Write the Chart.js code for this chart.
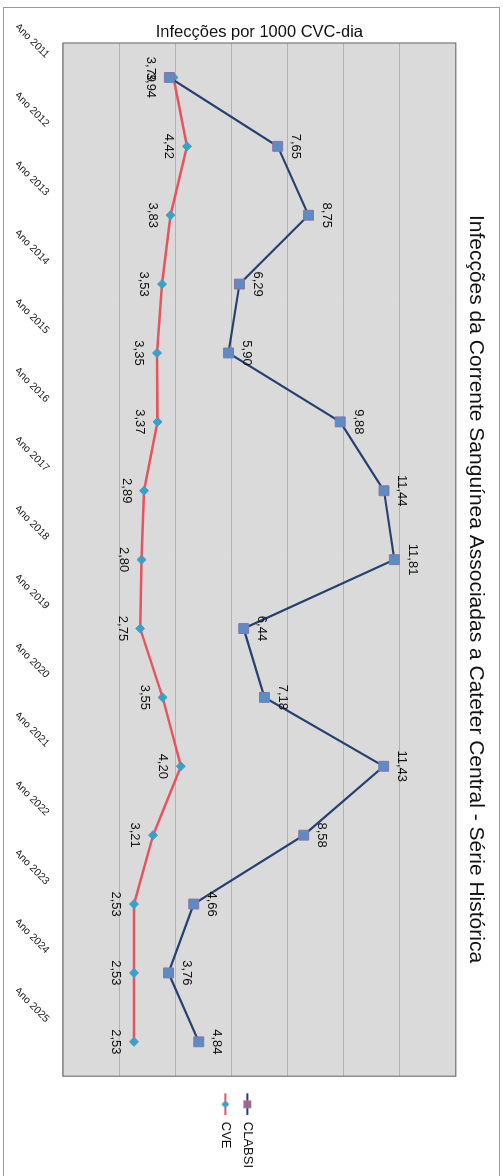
<!DOCTYPE html>
<html>
<head>
<meta charset="utf-8">
<script src="https://cdn.jsdelivr.net/npm/chart.js@4.4.1/dist/chart.umd.min.js"></script>
<style>
  html, body { margin: 0; padding: 0; background: #fff; overflow: hidden; }
  #page { position: relative; width: 503px; height: 1176px; }
  /* chart is laid out landscape, then turned a quarter clockwise */
  #chartBox {
    position: absolute; left: 0; top: 0;
    width: 1176px; height: 503px;
    transform-origin: 0 0;
    transform: translateX(503px) rotate(90deg);
  }
</style>
</head>
<body>
<div id="page"><div id="chartBox"><canvas id="chart"></canvas></div></div>
<script>
const years = ["Ano 2011", "Ano 2012", "Ano 2013", "Ano 2014", "Ano 2015", "Ano 2016", "Ano 2017", "Ano 2018",
  "Ano 2019", "Ano 2020", "Ano 2021", "Ano 2022", "Ano 2023", "Ano 2024", "Ano 2025"];
const clabsi = [3.79, 7.65, 8.75, 6.29, 5.90, 9.88, 11.44, 11.81, 6.44, 7.18, 11.43, 8.58, 4.66, 3.76, 4.84];
const cve = [3.94, 4.42, 3.83, 3.53, 3.35, 3.37, 2.89, 2.80, 2.75, 3.55, 4.20, 3.21, 2.53, 2.53, 2.53];

const FONT = '"Liberation Sans", Arial, sans-serif';
const fmt = (v) => v.toFixed(2).replace(".", ",");

// line + marker swatches for the legend (left part left blank as spacing)
function legendIcon(lineColor, marker) {
  const c = document.createElement("canvas");
  c.width = 30; c.height = 12;
  const g = c.getContext("2d");
  g.strokeStyle = lineColor; g.lineWidth = 2;
  g.beginPath(); g.moveTo(8, 6); g.lineTo(30, 6); g.stroke();
  marker(g, 19, 6);
  return c;
}
const clabsiIcon = legendIcon("#26406f", (g, x, y) => {
  g.fillStyle = "#8a6f9c"; g.strokeStyle = "#c56f8c"; g.lineWidth = 1;
  g.fillRect(x - 4, y - 4, 8, 8); g.strokeRect(x - 3.5, y - 3.5, 7, 7);
});
const cveIcon = legendIcon("#e8545e", (g, x, y) => {
  g.fillStyle = "#3ba0c6";
  g.beginPath(); g.moveTo(x, y - 4); g.lineTo(x + 4, y); g.lineTo(x, y + 4); g.lineTo(x - 4, y); g.closePath(); g.fill();
});

const plotBackground = {
  id: "plotBackground",
  beforeDraw(chart) {
    const { ctx, chartArea: a } = chart;
    ctx.save();
    ctx.strokeStyle = "#9a9a9a";
    ctx.lineWidth = 1;
    ctx.strokeRect(7.5, 3.5, 1200, 496);
    ctx.fillStyle = "#dadada";
    ctx.fillRect(a.left, a.top, a.right - a.left, a.bottom - a.top);
    ctx.restore();
  },
  afterDraw(chart) {
    const { ctx, chartArea: a } = chart;
    ctx.save();
    ctx.strokeStyle = "#7a7a7a";
    ctx.lineWidth = 1.2;
    ctx.strokeRect(a.left, a.top, a.right - a.left, a.bottom - a.top);
    ctx.restore();
  }
};

// value labels: CLABSI above its point, CVE below; when both points sit
// on top of each other the two labels go below, next to each other
const valueLabels = {
  id: "valueLabels",
  afterDatasetsDraw(chart) {
    const ctx = chart.ctx;
    const ptsA = chart.getDatasetMeta(0).data;
    const ptsB = chart.getDatasetMeta(1).data;
    ctx.save();
    ctx.font = "13px " + FONT;
    ctx.fillStyle = "#111";
    ctx.textAlign = "center";
    ctx.textBaseline = "middle";
    ptsA.forEach((pa, i) => {
      const pb = ptsB[i];
      if (Math.abs(pa.y - pb.y) < 20) {
        const y = Math.max(pa.y, pb.y) + 19;
        ctx.fillText(fmt(clabsi[i]), pa.x - 8, y);
        ctx.fillText(fmt(cve[i]), pb.x + 8, y);
      } else {
        ctx.fillText(fmt(clabsi[i]), pa.x, pa.y - 18);
        ctx.fillText(fmt(cve[i]), pb.x, pb.y + 18);
      }
    });
    ctx.restore();
  }
};

new Chart(document.getElementById("chart"), {
  type: "line",
  data: {
    labels: years,
    datasets: [
      {
        label: "CLABSI",
        data: clabsi,
        borderColor: "#26406f",
        borderWidth: 2.2,
        backgroundColor: "#5b8cc4",
        pointStyle: "rect",
        pointRadius: 7,
        pointBorderColor: "#8a74a6",
        pointBorderWidth: 1,
        tension: 0
      },
      {
        label: "CVE",
        data: cve,
        borderColor: "#e8545e",
        borderWidth: 2.5,
        backgroundColor: "#3ba0c6",
        pointStyle: "rectRot",
        pointRadius: 4.5,
        pointBorderColor: "#3ba0c6",
        pointBorderWidth: 1,
        tension: 0
      }
    ]
  },
  options: {
    responsive: true,
    maintainAspectRatio: false,
    animation: false,
    layout: { padding: { top: 8, right: -2, bottom: 16, left: 0 } },
    scales: {
      x: {
        offset: true,
        grid: { display: false, drawTicks: false },
        border: { display: false },
        ticks: {
          color: "#222",
          font: { family: FONT, size: 10.5 },
          minRotation: 45,
          maxRotation: 45,
          padding: 11,
          labelOffset: -21,
          autoSkip: false
        },
        afterFit(scale) {
          scale.height = 47;
          // keep the first slanted label from being clipped at the plot edge
          scale.paddingLeft = 40;
        }
      },
      y: {
        min: 0,
        max: 14,
        ticks: { display: false, stepSize: 2 },
        grid: { color: "#b2b2b2", lineWidth: 1, drawTicks: false },
        border: { display: false },
        title: {
          display: true,
          text: "Infecções por 1000 CVC-dia",
          color: "#111",
          font: { family: FONT, size: 16.5 },
          padding: { top: 23, bottom: 0 }
        },
        afterFit(scale) { scale.width = 43; }
      }
    },
    plugins: {
      title: {
        display: true,
        text: "Infecções da Corrente Sanguínea Associadas a Cateter Central - Série Histórica",
        color: "#111",
        font: { family: FONT, size: 21, weight: "normal" },
        padding: { top: 7, bottom: 7 }
      },
      legend: {
        position: "right",
        title: { display: true, text: "", font: { size: 1 }, padding: { top: 37, bottom: 0 } },
        labels: {
          usePointStyle: true,
          pointStyleWidth: 30,
          color: "#111",
          font: { family: FONT, size: 13 },
          padding: 9,
          generateLabels(chart) {
            return chart.data.datasets.map((ds, i) => ({
              text: ds.label,
              pointStyle: i === 0 ? clabsiIcon : cveIcon,
              fillStyle: "transparent",
              strokeStyle: "transparent",
              lineWidth: 0,
              fontColor: "#111",
              hidden: false,
              datasetIndex: i
            }));
          }
        }
      },
      tooltip: { enabled: false }
    }
  },
  plugins: [plotBackground, valueLabels]
});
</script>
</body>
</html>
